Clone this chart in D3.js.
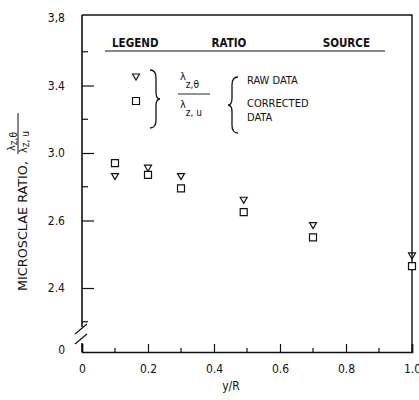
<html>
<head>
<script src="https://cdn.jsdelivr.net/npm/d3@7"></script>
<style>
  * { margin: 0; padding: 0; }
  body { background: #fff; }
  text { font-family: "Liberation Sans Narrow", "DejaVu Sans Condensed", "Liberation Sans", sans-serif; fill: #111; }
</style>
</head>
<body>
<svg id="viz" width="419" height="400"></svg>
<script>
  // y/R positions of the measurements
  var yR = [0.1, 0.2, 0.3, 0.49, 0.7, 1.0];
  // lambda_z,theta / lambda_z,u
  var rawData = [2.86, 2.91, 2.86, 2.72, 2.57, 2.39];
  var correctedData = [2.94, 2.87, 2.79, 2.65, 2.50, 2.33];

  var xMajor = [0, 0.2, 0.4, 0.6, 0.8, 1.0];
  var xMinor = [0.1, 0.3, 0.5, 0.7, 0.9];
  var xLabels = ["0", "0.2", "0.4", "0.6", "0.8", "1.0"];
  var yMajor = [3.8, 3.4, 3.0, 2.6, 2.2];
  var yMinor = [3.6, 3.2, 2.8, 2.0];
  // labels as printed on the figure
  var yLabels = ["3,8", "3.4", "3.0", "2.6", "2.4"];

  var mLeft = 82, mRight = 412, mTop = 15, mBottom = 352;

  var svg = d3.select("#viz");

  var x = d3.scaleLinear().domain([0, 1]).range([mLeft, mRight]);
  var y = d3.scaleLinear().domain([2.2, 3.8]).range([288, 18]);

  var ink = "#111";

  // frame: top and right
  svg.append("path")
    .attr("d", "M" + mLeft + "," + mTop + "H" + mRight + "V" + mBottom)
    .attr("fill", "none").attr("stroke", ink).attr("stroke-width", 1.4);

  // bottom axis
  var xAxis = d3.axisBottom(x).tickValues(xMajor).tickSize(-8).tickPadding(12)
    .tickFormat(function (d, i) { return xLabels[i]; });
  var gx = svg.append("g").attr("transform", "translate(0," + mBottom + ")").call(xAxis);
  gx.select(".domain").attr("stroke", ink).attr("stroke-width", 1.6);
  gx.selectAll(".tick line").attr("stroke", ink).attr("stroke-width", 1.2);
  gx.selectAll(".tick text").attr("font-size", 12).attr("fill", ink).attr("font-family", null);
  gx.selectAll(".minor").data(xMinor).enter().append("line")
    .attr("x1", x).attr("x2", x).attr("y1", 0).attr("y2", -4)
    .attr("stroke", ink).attr("stroke-width", 1.2);

  // left axis (broken)
  var yAxis = d3.axisLeft(y).tickValues(yMajor).tickSize(-12)
    .tickFormat(function (d, i) { return yLabels[i]; });
  var gy = svg.append("g").attr("transform", "translate(" + mLeft + ",0)").call(yAxis);
  gy.select(".domain").remove();
  gy.selectAll(".tick line").attr("stroke", ink).attr("stroke-width", 1.2)
    .filter(function (d) { return d === 3.8; }).remove();
  gy.selectAll(".tick text").attr("font-size", 12).attr("fill", ink).attr("font-family", null)
    .attr("text-anchor", "end").attr("x", -17);
  gy.selectAll(".minor").data(yMinor).enter().append("line")
    .attr("x1", 0).attr("x2", 6).attr("y1", y).attr("y2", y)
    .attr("stroke", ink).attr("stroke-width", 1.2);

  svg.append("line").attr("x1", mLeft).attr("x2", mLeft).attr("y1", mTop).attr("y2", 327)
    .attr("stroke", ink).attr("stroke-width", 1.6);
  svg.append("line").attr("x1", mLeft).attr("x2", mLeft).attr("y1", 343).attr("y2", mBottom)
    .attr("stroke", ink).attr("stroke-width", 1.6);
  [0, 10].forEach(function (o) {
    svg.append("line").attr("x1", mLeft - 7).attr("y1", 334 + o).attr("x2", mLeft + 5).attr("y2", 324 + o)
      .attr("stroke", ink).attr("stroke-width", 1.2);
  });
  svg.append("text").attr("x", 65).attr("y", mBottom + 2).attr("text-anchor", "end")
    .attr("font-size", 12).text("0");

  // axis titles
  svg.append("text").attr("x", 231).attr("y", 390).attr("text-anchor", "middle")
    .attr("font-size", 12).text("y/R");

  var yt = svg.append("g").attr("transform", "translate(27,291) rotate(-90)");
  yt.append("text").attr("x", 0).attr("y", 0).attr("font-size", 11.5)
    .attr("textLength", 130).attr("lengthAdjust", "spacingAndGlyphs").text("MICROSCLAE RATIO,");
  var fn = yt.append("text").attr("x", 140).attr("y", -12).attr("font-size", 11);
  fn.append("tspan").text("\u03bb");
  fn.append("tspan").attr("dy", 2).attr("font-size", 10).text("z,\u03b8");
  yt.append("line").attr("x1", 137).attr("x2", 178).attr("y1", -9).attr("y2", -9)
    .attr("stroke", ink).attr("stroke-width", 1);
  var fd = yt.append("text").attr("x", 138).attr("y", 0).attr("font-size", 11);
  fd.append("tspan").text("\u03bb");
  fd.append("tspan").attr("dy", 2).attr("font-size", 10).text("z, u");

  // markers
  function tri(cx, cy) {
    return "M" + (cx - 3.5) + "," + (cy - 3) + "H" + (cx + 3.5) + "L" + cx + "," + (cy + 3) + "Z";
  }
  function sq(cx, cy) {
    return "M" + (cx - 3.5) + "," + (cy - 3.5) + "h7v7h-7Z";
  }

  svg.selectAll(".raw").data(rawData).enter().append("path")
    .attr("d", function (d, i) { return tri(x(yR[i]), y(d)); })
    .attr("fill", "none").attr("stroke", ink).attr("stroke-width", 1.2);
  svg.selectAll(".cor").data(correctedData).enter().append("path")
    .attr("d", function (d, i) { return sq(x(yR[i]), y(d)); })
    .attr("fill", "#fff").attr("stroke", ink).attr("stroke-width", 1.2);

  // legend
  var lg = svg.append("g");
  lg.append("text").attr("x", 112).attr("y", 47).attr("font-size", 11.5).attr("font-weight", "bold").text("LEGEND");
  lg.append("text").attr("x", 229).attr("y", 47).attr("text-anchor", "middle").attr("font-size", 11.5).attr("font-weight", "bold").text("RATIO");
  lg.append("text").attr("x", 370).attr("y", 47).attr("text-anchor", "end").attr("font-size", 11.5).attr("font-weight", "bold").text("SOURCE");
  lg.append("line").attr("x1", 105).attr("x2", 385).attr("y1", 51).attr("y2", 51)
    .attr("stroke", ink).attr("stroke-width", 1.2);

  lg.append("path").attr("d", tri(136, 77)).attr("fill", "none").attr("stroke", ink).attr("stroke-width", 1.2);
  lg.append("path").attr("d", sq(136, 101)).attr("fill", "none").attr("stroke", ink).attr("stroke-width", 1.2);

  // right brace
  lg.append("path")
    .attr("d", "M150,70 Q156,70 156,78 L156,92 Q156,99 160,99 Q156,99 156,106 L156,120 Q156,128 150,128")
    .attr("fill", "none").attr("stroke", ink).attr("stroke-width", 1.3);
  // left brace
  lg.append("path")
    .attr("d", "M238,77 Q232,77 232,85 L232,98 Q232,105 228,105 Q232,105 232,112 L232,125 Q232,133 238,133")
    .attr("fill", "none").attr("stroke", ink).attr("stroke-width", 1.3);

  var ln = lg.append("text").attr("x", 180).attr("y", 80).attr("font-size", 11);
  ln.append("tspan").text("\u03bb");
  ln.append("tspan").attr("dy", 8).attr("font-size", 10).text("z,\u03b8");
  lg.append("line").attr("x1", 178).attr("x2", 210).attr("y1", 94).attr("y2", 94)
    .attr("stroke", ink).attr("stroke-width", 0.9);
  var ld = lg.append("text").attr("x", 180).attr("y", 108).attr("font-size", 11);
  ld.append("tspan").text("\u03bb");
  ld.append("tspan").attr("dy", 8).attr("font-size", 10).text("z, u");

  lg.append("text").attr("x", 247).attr("y", 84).attr("font-size", 11).text("RAW DATA");
  lg.append("text").attr("x", 247).attr("y", 107).attr("font-size", 11).text("CORRECTED");
  lg.append("text").attr("x", 247).attr("y", 121).attr("font-size", 11).text("DATA");
</script>
</body>
</html>
